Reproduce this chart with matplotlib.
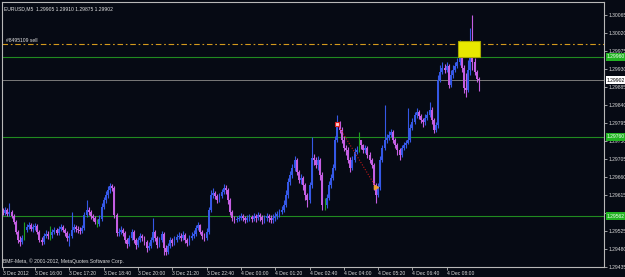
import numpy as np
import matplotlib
matplotlib.use('Agg')
import matplotlib.pyplot as plt
from matplotlib.patches import Rectangle

# EURUSD M5 candles, prices in points (29575 -> 1.29575)
open0 = 29575
close_pts = [
    29570, 29578, 29568, 29572, 29562, 29548, 29522, 29502, 29498, 29508,
    29528, 29535, 29540, 29530, 29535, 29538, 29522, 29502, 29498, 29512,
    29518, 29512, 29515, 29522, 29528, 29520, 29530, 29535, 29528, 29520,
    29508, 29512, 29528, 29535, 29530, 29528, 29525, 29532, 29565, 29578,
    29572, 29562, 29558, 29548, 29542, 29555, 29585, 29602, 29615, 29628,
    29638, 29632, 29565, 29520, 29522, 29528, 29520, 29502, 29492, 29508,
    29522, 29502, 29490, 29502, 29512, 29508, 29498, 29482, 29488, 29502,
    29522, 29508, 29490, 29502, 29518, 29482, 29472, 29488, 29502, 29495,
    29502, 29510, 29512, 29508, 29515, 29502, 29495, 29508, 29512, 29518,
    29532, 29540, 29522, 29512, 29508, 29522, 29578, 29615, 29620, 29612,
    29602, 29612, 29622, 29632, 29628, 29602, 29572, 29558, 29552, 29555,
    29558, 29562, 29558, 29552, 29558, 29560, 29555, 29562, 29558, 29565,
    29560, 29552, 29558, 29562, 29558, 29552, 29558, 29562, 29568, 29572,
    29578, 29590, 29615, 29648, 29665, 29682, 29702, 29672, 29652, 29658,
    29640, 29615, 29602, 29640, 29708, 29702, 29690, 29702, 29665, 29590,
    29590, 29608, 29640, 29658, 29682, 29752, 29792, 29778, 29752, 29732,
    29728, 29702, 29682, 29702, 29722, 29728, 29752, 29740, 29728, 29732,
    29715, 29702, 29690, 29640, 29615, 29635, 29702, 29732, 29752, 29758,
    29765, 29772, 29752, 29740, 29728, 29715, 29732, 29740, 29745, 29752,
    29782, 29798, 29815, 29822, 29812, 29802, 29798, 29808, 29815, 29828,
    29802, 29778, 29790, 29902, 29922, 29932, 29928, 29938, 29890, 29915,
    29928, 29938, 29948, 29965, 29932, 29882, 29878, 29928, 29965, 29948,
    29922, 29905, 29902,
]
high_pts = [
    29582, 29585, 29582, 29595, 29578, 29568, 29552, 29528, 29512, 29515,
    29548, 29542, 29548, 29545, 29542, 29545, 29542, 29528, 29510, 29520,
    29528, 29525, 29538, 29530, 29535, 29532, 29538, 29542, 29540, 29532,
    29525, 29520, 29572, 29542, 29540, 29538, 29535, 29540, 29572, 29602,
    29585, 29578, 29568, 29562, 29555, 29565, 29595, 29610, 29625, 29638,
    29645, 29642, 29638, 29570, 29532, 29538, 29532, 29525, 29508, 29515,
    29530, 29528, 29508, 29510, 29520, 29518, 29512, 29502, 29498, 29510,
    29558, 29528, 29512, 29510, 29525, 29522, 29490, 29495, 29510, 29508,
    29512, 29518, 29522, 29520, 29525, 29520, 29508, 29515, 29522, 29528,
    29540, 29548, 29542, 29528, 29520, 29532, 29585, 29628, 29632, 29625,
    29618, 29620, 29630, 29642, 29640, 29632, 29608, 29578, 29562, 29562,
    29565, 29570, 29568, 29562, 29565, 29568, 29565, 29570, 29568, 29572,
    29570, 29565, 29565, 29570, 29568, 29565, 29568, 29572, 29575, 29580,
    29588, 29602, 29628, 29658, 29675, 29692, 29712, 29708, 29678, 29668,
    29662, 29645, 29620, 29648, 29760, 29718, 29710, 29712, 29708, 29672,
    29608, 29618, 29650, 29668, 29692, 29762, 29815, 29800, 29785, 29762,
    29740, 29735, 29710, 29712, 29732, 29738, 29772, 29750, 29742, 29740,
    29738, 29722, 29708, 29695, 29645, 29645, 29712, 29740, 29840, 29768,
    29775, 29780, 29778, 29758, 29745, 29732, 29740, 29748, 29752, 29832,
    29792, 29808, 29822, 29832, 29828, 29818, 29808, 29818, 29825, 29848,
    29835, 29808, 29798, 29915, 29940, 29948, 29942, 29948, 29942, 29928,
    29940, 29948, 29958, 30002, 29972, 29940, 29920, 29952, 30032, 30065,
    29958, 29928, 29910,
]
low_pts = [
    29565, 29565, 29562, 29562, 29558, 29542, 29518, 29495, 29488, 29492,
    29502, 29522, 29530, 29525, 29522, 29528, 29518, 29498, 29490, 29492,
    29508, 29505, 29502, 29508, 29518, 29515, 29515, 29525, 29522, 29512,
    29500, 29488, 29508, 29522, 29522, 29520, 29518, 29520, 29528, 29560,
    29565, 29555, 29550, 29542, 29535, 29538, 29550, 29580, 29595, 29608,
    29620, 29625, 29558, 29512, 29512, 29518, 29512, 29495, 29482, 29488,
    29502, 29495, 29480, 29485, 29498, 29500, 29490, 29472, 29478, 29482,
    29498, 29500, 29482, 29485, 29498, 29465, 29465, 29468, 29482, 29488,
    29490, 29498, 29505, 29500, 29502, 29495, 29488, 29490, 29502, 29508,
    29512, 29528, 29518, 29505, 29500, 29502, 29518, 29572, 29608, 29605,
    29595, 29598, 29608, 29618, 29618, 29592, 29565, 29550, 29545, 29548,
    29550, 29552, 29550, 29545, 29548, 29550, 29548, 29550, 29548, 29552,
    29550, 29542, 29545, 29550, 29548, 29545, 29545, 29550, 29555, 29560,
    29568, 29572, 29585, 29608, 29640, 29658, 29675, 29665, 29645, 29642,
    29628, 29602, 29585, 29595, 29632, 29690, 29682, 29678, 29652, 29578,
    29578, 29582, 29602, 29632, 29652, 29678, 29748, 29770, 29745, 29725,
    29715, 29695, 29672, 29678, 29698, 29718, 29722, 29730, 29720, 29720,
    29708, 29695, 29682, 29628, 29595, 29610, 29628, 29698, 29728, 29745,
    29752, 29760, 29745, 29732, 29715, 29702, 29710, 29728, 29732, 29742,
    29748, 29778, 29792, 29808, 29805, 29795, 29785, 29790, 29802, 29810,
    29792, 29770, 29772, 29782, 29898, 29918, 29920, 29922, 29882, 29885,
    29908, 29922, 29932, 29940, 29922, 29870, 29860, 29872, 29915, 29928,
    29915, 29898, 29875,
]
doji_bars = [10, 22, 44, 166]

xtick_bars = [0, 15, 31, 47, 63, 79, 95, 111, 127, 143, 159, 175, 191, 207]
xtick_labels = ['3 Dec 2012', '3 Dec 16:00', '3 Dec 17:20', '3 Dec 18:40',
                '3 Dec 20:00', '3 Dec 21:20', '3 Dec 22:40', '4 Dec 00:00',
                '4 Dec 01:20', '4 Dec 02:40', '4 Dec 04:00', '4 Dec 05:20',
                '4 Dec 06:40', '4 Dec 08:00']
ytick_pts = list(range(29435, 30066, 45))

sell_level = 29992
green_levels = [29960, 29760, 29562]
bid_level = 29902
rect_bars = [212.3, 222.6]
rect_pts = [29960, 30000]
trend_bars = [156, 174]
trend_pts = [29792, 29635]


def price(v):
    return 1 + np.asarray(v, dtype=float) / 1e5


c = price(close_pts)
h = price(high_pts)
l = price(low_pts)
o = np.r_[price(open0), c[:-1]]
o[doji_bars] = c[doji_bars]
x = np.arange(len(c))

bull, bear, flat = '#3558e6', '#c45ee2', '#1fa01f'
cols = [bull if cc > oo else bear if cc < oo else flat for oo, cc in zip(o, c)]

plt.rcParams['font.family'] = ['Liberation Sans', 'DejaVu Sans']
bg = '#060a14'
fig = plt.figure(figsize=(6.25, 2.77), dpi=100, facecolor=bg)
ax = fig.add_axes([2 / 625, 10 / 277, 602 / 625, 265 / 277], facecolor=bg)

# horizontal levels
ax.axhline(price(sell_level), color='#d49a1c', lw=0.8, ls=(0, (5, 2.5, 1.5, 2.5)), zorder=1)
for lv in green_levels:
    ax.axhline(price(lv), color='#208a20', lw=0.8, zorder=1)
ax.axhline(price(bid_level), color='#7a7a7a', lw=0.7, zorder=1)

# candles
ax.vlines(x, l, h, colors=cols, lw=0.8, zorder=2)
body = np.maximum(np.abs(c - o), 0.000006)
ax.bar(x, body, bottom=np.minimum(o, c), width=0.9, color=cols, lw=0, zorder=2)

# yellow rectangle object
ax.add_patch(Rectangle((rect_bars[0], price(rect_pts[0])), rect_bars[1] - rect_bars[0],
                       price(rect_pts[1]) - price(rect_pts[0]),
                       facecolor='#e8e800', edgecolor='#a8a800', lw=0.8, zorder=3))

# trend line with anchors
ax.plot(trend_bars, price(trend_pts), color='#c01818', lw=0.8, ls=(0, (1, 1.5)), zorder=3)
ax.plot(trend_bars[0], price(trend_pts[0]), 's', ms=3, mfc='#ffd0d0', mec='#e02020', mew=0.8, zorder=4)
ax.plot(trend_bars[1], price(trend_pts[1]), '>', ms=3, color='#f0a030', zorder=4)

ax.set_xlim(-0.47, 280.4)
ax.set_ylim(price(29435), price(30097.5))

for sp in ax.spines.values():
    sp.set_color('#b8b8b8')
    sp.set_linewidth(0.8)

# tick labels hidden under the line labels are left blank
covered = [29570]
ax.yaxis.tick_right()
ax.set_yticks(price(ytick_pts))
ax.set_yticklabels(['' if t in covered else f'{price(t):.5f}' for t in ytick_pts])
ax.set_xticks(xtick_bars)
ax.set_xticklabels(xtick_labels)
ax.tick_params(axis='both', colors='#b8b8b8', labelcolor='#d8d8d8', labelsize=3.6,
               length=2, width=0.6, pad=1)
for lab in ax.get_xticklabels():
    lab.set_horizontalalignment('left')

# price labels on the right
ytr = ax.get_yaxis_transform()
for lv in green_levels:
    ax.text(1.005, price(lv), f'{price(lv):.5f}', transform=ytr, fontsize=3.6, color='#f0fff0',
            va='center', ha='left', clip_on=False, zorder=5,
            bbox=dict(boxstyle='square,pad=0.25', facecolor='#22b422', edgecolor='none'))
ax.text(1.005, price(bid_level), f'{price(bid_level):.5f}', transform=ytr, fontsize=3.6,
        color='#000000', va='center', ha='left', clip_on=False, zorder=5,
        bbox=dict(boxstyle='square,pad=0.25', facecolor='#ffffff', edgecolor='none'))

# chart texts
ax.text(0.004, 0.985, 'EURUSD,M5  1.29905 1.29910 1.29875 1.29902', transform=ax.transAxes,
        fontsize=3.6, color='#e0e0e0', va='top', ha='left')
ax.text(1.5, price(sell_level + 4), '#8495109 sell', fontsize=3.6, color='#e0e0e0',
        va='bottom', ha='left')
ax.text(0.002, 0.012, 'BMF-Meta, \u00a9 2001-2012, MetaQuotes Software Corp.',
        transform=ax.transAxes, fontsize=3.6, color='#e0e0e0', va='bottom', ha='left')

fig.savefig('out.png', dpi=100, facecolor=bg)
